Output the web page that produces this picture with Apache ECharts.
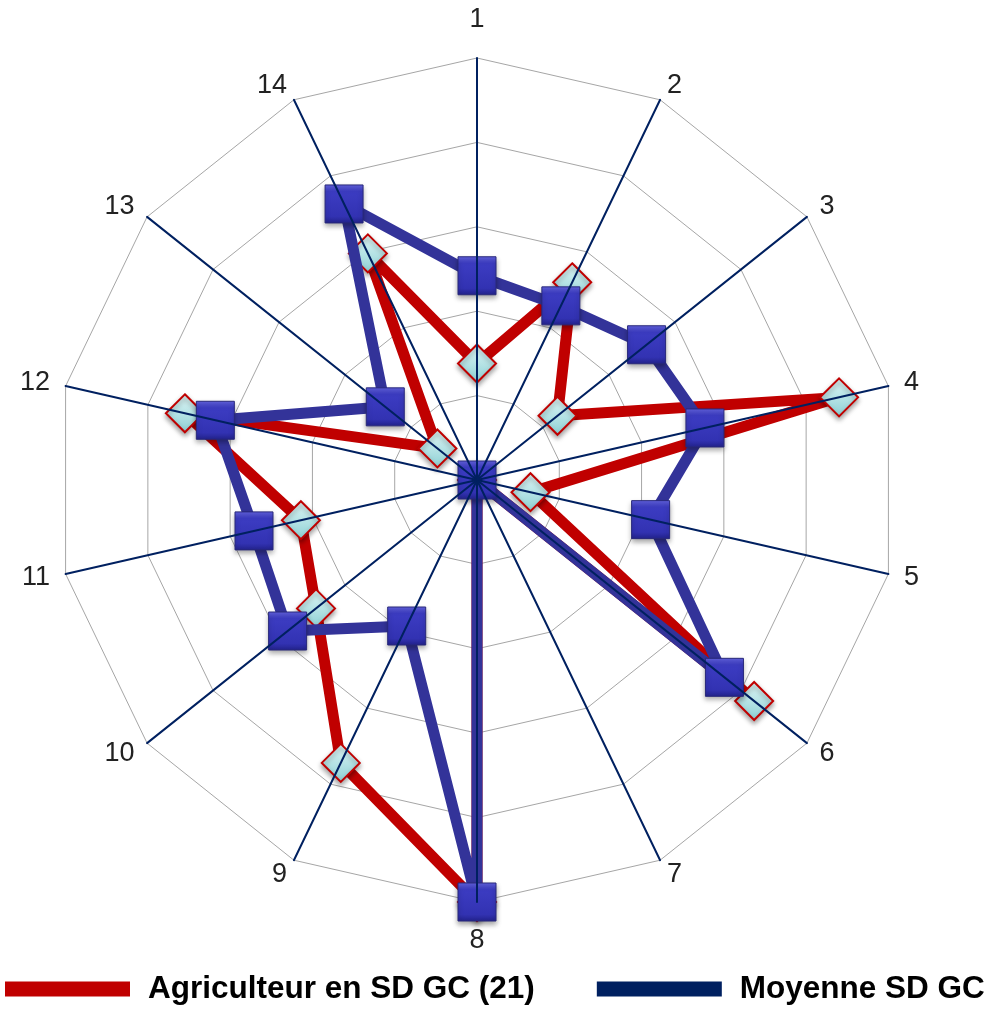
<!DOCTYPE html>
<html><head><meta charset="utf-8">
<script src="https://cdn.jsdelivr.net/npm/echarts@6/dist/echarts.min.js"></script>
<style>html,body{margin:0;padding:0;background:#fff}#c{width:993px;height:1009px}</style>
</head><body><div id="c"></div>
<script>
// Axis labels, clockwise from top
const axisLabels = ['1','2','3','4','5','6','7','8','9','10','11','12','13','14'];
const seriesNames = ['Agriculteur en SD GC (21)', 'Moyenne SD GC'];
const agriculteur = [1.38, 2.6, 1.22, 4.4, 0.65, 4.2, 0, 5, 3.72, 2.44, 2.14, 3.55, 0.6, 2.98];
const moyenne     = [2.42, 2.29, 2.57, 2.77, 2.11, 3.75, 0, 5, 1.92, 2.87, 2.71, 3.18, 1.39, 3.63];
const axisMax = 5;

// ECharts radar runs counter-clockwise: reorder so the chart reads clockwise
const order = [0];
for (let i = axisLabels.length - 1; i >= 1; i--) order.push(i);
const reorder = arr => order.map(i => arr[i]);
const indicators = order.map(i => ({ name: axisLabels[i], max: axisMax, min: 0 }));

const geom = { center: [477, 480], radius: 422, shape: 'polygon', splitNumber: 5, startAngle: 90 };

const chart = echarts.init(document.getElementById('c'), null, { renderer: 'canvas' });
chart.setOption({
  backgroundColor: '#ffffff',
  animation: false,
  radar: [
    Object.assign({}, geom, {
      indicator: indicators,
      z: 0,
      nameGap: 16,
      axisName: { color: '#222', fontSize: 27, fontFamily: 'Liberation Sans', padding: [9, 0, 9, 0] },
      splitLine: { lineStyle: { color: '#a6a6a6', width: 1 } },
      splitArea: { show: false },
      axisLine: { show: false },
      axisTick: { show: false },
      axisLabel: { show: false }
    }),
    Object.assign({}, geom, {
      indicator: indicators,
      z: 10,
      axisName: { show: false },
      splitLine: { show: false },
      splitArea: { show: false },
      axisLine: { show: true, lineStyle: { color: '#002060', width: 2 } },
      axisTick: { show: false },
      axisLabel: { show: false }
    })
  ],
  legend: {
    left: 5, top: 973, padding: 0,
    icon: 'rect', itemWidth: 125, itemHeight: 15, itemGap: 62,
    textStyle: { fontFamily: 'Liberation Sans', fontWeight: 'bold', fontSize: 31.5, color: '#000', padding: [0, 0, 0, 13] },
    data: [
      { name: seriesNames[0], itemStyle: { color: '#c00000', borderWidth: 0, shadowBlur: 0 } },
      { name: seriesNames[1], itemStyle: { color: '#002060', borderWidth: 0, shadowBlur: 0 } }
    ]
  },
  series: [
    {
      type: 'radar', name: seriesNames[0], radarIndex: 0, z: 3,
      symbol: 'diamond', symbolSize: 38,
      lineStyle: { color: '#c00000', width: 11 },
      itemStyle: {
        color: new echarts.graphic.LinearGradient(0, 0, 0, 1, [
          { offset: 0, color: '#e2f8f8' }, { offset: 1, color: '#8ccfd3' }
        ]),
        borderColor: '#c00000', borderWidth: 2,
        shadowBlur: 5, shadowOffsetY: 3, shadowColor: 'rgba(0,0,0,0.35)'
      },
      data: [{ name: seriesNames[0], value: reorder(agriculteur) }]
    },
    {
      type: 'radar', name: seriesNames[1], radarIndex: 0, z: 4,
      symbol: 'rect', symbolSize: 38,
      lineStyle: { color: '#333399', width: 11 },
      itemStyle: {
        color: new echarts.graphic.LinearGradient(0, 0, 0, 1, [
          { offset: 0, color: '#6464e2' }, { offset: 0.18, color: '#3c3cc2' },
          { offset: 0.82, color: '#3232b2' }, { offset: 1, color: '#22228a' }
        ]),
        borderColor: '#28287a', borderWidth: 1,
        shadowBlur: 5, shadowOffsetY: 3, shadowColor: 'rgba(0,0,0,0.35)'
      },
      data: [{ name: seriesNames[1], value: reorder(moyenne) }]
    }
  ]
});
</script>
</body></html>
